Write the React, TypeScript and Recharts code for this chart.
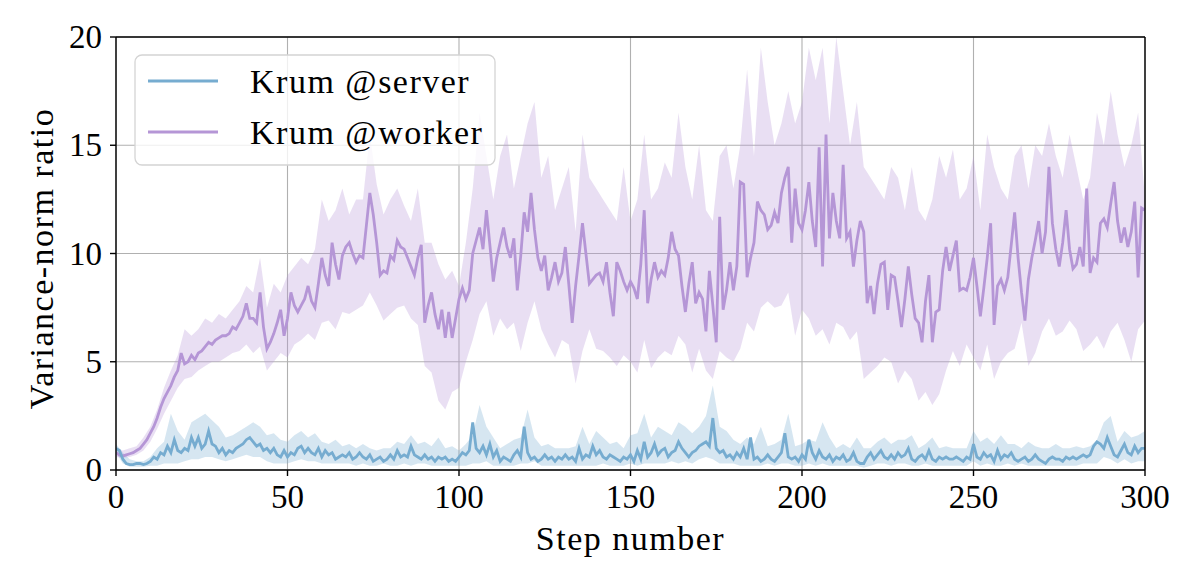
import React from "react";
import {
  ComposedChart,
  Line,
  Area,
  XAxis,
  YAxis,
  CartesianGrid,
  ReferenceLine,
} from "recharts";

// ---- data ----
const xTicks = [0, 50, 100, 150, 200, 250, 300];
const yTicks = [0, 5, 10, 15, 20];

// Krum @worker mean, one value per step 0..300
const workerMean = [
  0.8, 0.7, 0.65, 0.7, 0.75, 0.8, 0.9, 1.0, 1.2, 1.4,
  1.7, 2.0, 2.4, 2.9, 3.3, 3.6, 3.9, 4.3, 4.6, 5.4,
  4.9, 5.0, 5.3, 5.1, 5.4, 5.5, 5.7, 5.9, 5.8, 6.0,
  6.1, 6.2, 6.2, 6.3, 6.6, 6.5, 6.8, 7.1, 7.7, 7.0,
  7.0, 6.8, 8.2, 6.6, 5.6, 5.9, 6.3, 6.8, 7.4, 6.2,
  7.0, 8.2, 7.6, 7.3, 7.6, 7.9, 8.5, 7.8, 7.5, 8.6,
  9.8, 9.0, 8.5, 10.5, 9.5, 8.8, 9.9, 10.3, 10.5, 10.0,
  9.6, 9.9, 9.8, 11.3, 12.8, 11.8, 10.5, 9.0, 9.2, 9.1,
  9.9, 9.7, 10.6, 10.3, 10.2, 9.8, 9.4, 9.0, 9.8, 10.4,
  6.8, 7.6, 8.2, 7.2, 6.5, 7.4, 6.1, 7.3, 6.1, 7.0,
  7.9, 8.4, 7.9, 8.3, 10.0, 10.6, 11.2, 10.2, 12.0, 10.4,
  8.7, 9.8, 10.5, 11.2, 10.3, 9.8, 10.7, 8.3, 9.9, 11.9,
  11.0, 12.8, 11.1, 9.8, 9.2, 9.9, 8.3, 8.9, 9.6, 8.7,
  9.1, 10.3, 8.6, 6.8, 8.5, 9.9, 11.4, 10.0, 8.6, 8.8,
  9.0, 9.1, 8.7, 9.6, 8.2, 7.1, 9.6, 9.2, 8.7, 8.3,
  8.7, 8.4, 7.9, 9.5, 12.0, 7.7, 8.8, 9.6, 8.9, 9.2,
  9.0, 9.8, 11.0, 10.2, 9.9, 8.5, 7.3, 8.6, 9.6, 7.7,
  8.2, 7.9, 6.4, 9.2, 7.6, 5.9, 11.7, 7.4, 8.3, 9.6,
  8.3, 9.4, 13.3, 13.2, 8.9, 9.8, 10.5, 12.4, 12.0, 11.8,
  11.1, 11.3, 11.9, 11.4, 12.8, 13.5, 14.0, 10.5, 13.0, 11.4,
  11.1, 12.0, 13.3, 11.5, 10.3, 14.9, 9.4, 15.5, 10.7, 12.8,
  11.5, 10.7, 14.1, 10.7, 11.0, 9.4, 10.6, 11.5, 11.0, 7.7,
  8.5, 7.2, 8.6, 9.5, 9.6, 7.4, 9.0, 8.9, 7.8, 6.6,
  7.9, 9.4, 8.1, 7.0, 6.8, 5.9, 7.8, 9.0, 5.9, 7.3,
  7.4, 9.2, 10.3, 9.2, 9.9, 10.6, 8.3, 8.4, 8.3, 8.9,
  9.8, 8.5, 7.1, 8.4, 9.8, 11.4, 6.7, 8.5, 8.8, 8.3,
  8.9, 10.4, 11.9, 9.8, 8.2, 6.9, 8.8, 9.8, 10.6, 11.5,
  10.0, 11.0, 14.0, 11.4, 10.2, 9.4, 10.5, 12.0, 10.2, 9.3,
  9.5, 10.3, 9.4, 13.0, 9.1, 9.8, 9.6, 11.4, 11.6, 11.2,
  12.3, 13.3, 11.5, 10.5, 11.2, 10.3, 11.0, 12.4, 8.9, 12.1,
  12.0,
];

// Krum @worker band, one value per 2 steps 0,2,..,300
const workerLow = [
  0.6, 0.55, 0.6, 0.7, 0.9, 1.3,
  1.9, 2.6, 3.2, 3.8, 4.2, 4.3, 4.6, 4.8, 5.0, 5.0,
  5.2, 5.4, 5.5, 5.8, 5.4, 5.7, 4.6, 5.0, 5.4, 5.2,
  5.8, 6.0, 6.3, 6.0, 6.8, 6.9, 6.5, 7.3, 7.2, 7.4,
  7.6, 8.2, 7.6, 6.9, 7.2, 7.5, 7.6, 7.0, 6.7, 4.8,
  4.5, 3.2, 2.8, 3.6, 3.8, 5.0, 6.0, 7.2, 7.8, 6.2,
  7.0, 6.5, 6.8, 5.5, 6.8, 7.8, 6.5, 5.8, 5.2, 6.0,
  5.8, 4.0, 5.5, 6.5, 5.6, 5.5, 5.2, 4.8, 5.3, 5.0,
  4.5, 6.0, 4.7, 5.2, 5.5, 5.3, 6.2, 5.8, 4.5, 5.6,
  4.6, 4.2, 5.5, 5.2, 5.0, 5.6, 6.8, 6.4, 7.5, 7.8,
  7.5, 7.6, 8.2, 6.2, 7.4, 7.0, 6.2, 6.5, 5.8, 6.8,
  6.6, 6.0, 6.4, 4.2, 4.5, 4.8, 5.2, 5.0, 4.0, 4.6,
  4.2, 3.2, 3.6, 3.0, 3.5, 4.6, 5.5, 4.8, 5.8, 5.2,
  4.6, 5.8, 4.2, 5.0, 5.4, 5.6, 6.8, 4.8, 5.4, 6.4,
  7.0, 6.2, 6.4, 6.9, 6.5, 5.5, 5.8, 6.2, 5.6, 6.4,
  6.8, 6.0, 5.0, 6.5, 6.9,
];
const workerHigh = [
  1.0, 0.9, 1.0, 1.1, 1.5, 2.0,
  2.8, 3.8, 4.6, 5.3, 6.5, 6.2, 6.5, 7.0, 6.8, 7.2,
  7.0, 7.4, 7.8, 8.5, 8.2, 9.8, 7.5, 8.6, 8.2, 9.0,
  9.4, 9.8, 9.5, 10.2, 12.5, 11.5, 12.0, 13.0, 11.8, 12.5,
  12.5, 15.5, 13.2, 11.8, 12.5, 13.0, 12.2, 11.5, 13.0, 10.5,
  10.5, 9.5, 8.8, 9.2, 8.5, 10.5, 13.0, 16.5, 14.5, 12.5,
  14.5, 15.5, 13.0, 14.5, 16.0, 17.0, 13.5, 14.5, 12.0, 13.0,
  14.0, 11.0, 15.5, 13.5, 13.0, 12.5, 12.0, 11.5, 14.0, 11.5,
  12.5, 15.5, 12.5, 13.0, 14.2, 13.5, 16.5, 14.0, 12.5, 15.0,
  12.0, 11.5, 14.5, 15.0, 13.0, 15.0, 18.5, 14.5, 19.5, 17.0,
  15.0, 16.0, 17.5, 16.0, 17.0, 19.5, 18.0, 19.5, 16.0, 20.0,
  17.5, 15.0, 17.0, 14.0, 13.5, 13.0, 12.5, 14.0, 13.5, 12.0,
  14.0, 12.0, 11.5, 12.5, 14.5, 13.5, 14.8, 12.5, 13.0, 14.5,
  12.0, 15.5, 14.0, 13.0, 12.5, 14.5, 15.0, 13.0, 15.0, 14.5,
  16.0, 14.5, 13.5, 15.5, 14.0, 12.5, 13.5, 16.5, 15.0, 17.5,
  15.5, 14.0, 15.0, 16.5, 12.5,
];

// Krum @server mean, one value per step 0..300
const serverMean = [
  1.0, 0.9, 0.5, 0.3, 0.25, 0.25, 0.3, 0.3, 0.25, 0.3,
  0.4, 0.6, 0.5, 0.8, 0.7, 1.1, 0.8, 1.4, 0.9, 0.8,
  1.0, 0.9, 1.5, 1.1, 1.5, 1.0, 1.2, 1.8, 1.2, 1.1,
  0.8, 1.0, 0.7, 0.9, 0.8, 1.0, 1.1, 1.2, 1.4, 1.5,
  1.3, 1.1, 1.2, 0.9, 1.0, 0.8, 1.0, 0.7, 0.6, 0.9,
  0.6, 0.8, 0.7, 1.0, 1.1, 0.8, 1.0, 0.8, 0.7, 1.0,
  0.6, 0.9, 0.7, 0.8, 0.5, 0.6, 0.7, 0.6, 0.8, 0.5,
  0.6, 0.8, 0.6, 0.5, 0.7, 0.4, 0.5, 0.6, 0.4, 0.5,
  0.7, 0.5, 0.9, 0.6, 0.7, 0.6, 1.1, 0.7, 0.6, 0.5,
  0.7, 0.5, 0.6, 0.4, 0.6, 0.5, 0.6, 0.4, 0.5, 0.4,
  0.6, 0.8, 0.7, 0.9, 2.2, 1.0, 0.8, 1.1, 0.7, 1.2,
  0.6, 0.9, 0.4, 0.6, 0.5, 0.4, 0.7, 0.9, 0.6, 2.0,
  0.8, 0.5, 0.6, 0.4, 0.5, 0.7, 0.5, 0.6, 0.4, 0.6,
  0.5, 0.7, 0.5, 0.6, 0.4, 1.0, 0.5, 0.7, 0.6, 1.1,
  0.7, 0.9, 0.6, 0.5, 0.7, 0.6, 0.5, 0.4, 0.6, 0.5,
  0.7, 0.4, 0.9, 0.5, 1.3, 0.6, 0.8, 1.2, 0.7, 0.9,
  1.0, 0.6, 0.8, 0.9, 1.3, 1.0, 0.8, 0.6, 0.8, 0.9,
  1.1, 1.2, 1.3, 1.1, 2.4, 1.0, 0.8, 0.9, 0.6, 0.7,
  0.5, 0.8, 0.6, 1.0, 0.5, 1.5, 0.5, 0.6, 0.4, 0.5,
  0.7, 0.5, 0.4, 0.6, 0.8, 1.7, 0.6, 0.5, 0.6, 0.4,
  0.7, 0.5, 1.4, 0.8, 0.5, 0.9, 0.6, 0.5, 0.7, 0.4,
  0.6, 0.5, 0.7, 0.4, 0.5, 0.8, 0.4, 0.3, 0.3, 0.6,
  0.8, 0.5, 0.7, 0.9, 0.6, 0.5, 0.7, 0.5, 0.8, 0.6,
  0.7, 1.0, 0.5, 0.4, 0.6, 0.7, 0.5, 0.9, 0.5, 0.4,
  0.6, 0.5, 0.6, 0.5, 0.5, 0.6, 0.5, 0.4, 0.6, 0.5,
  1.2, 0.6, 0.5, 0.8, 0.6, 0.7, 0.4, 0.9, 0.5, 0.7,
  0.6, 0.8, 0.5, 0.4, 0.5, 0.6, 0.4, 0.5, 0.7, 0.5,
  0.4, 0.3, 0.5, 0.6, 0.5, 0.5, 0.4, 0.6, 0.5, 0.6,
  0.5, 0.6, 0.7, 0.6, 0.7, 1.1, 1.3, 1.2, 1.0, 1.5,
  1.1, 0.7, 0.6, 0.9, 1.2, 0.8, 0.7, 1.1, 0.8, 1.0,
  1.0,
];

// Krum @server band, one value per 2 steps 0,2,..,300
const serverLow = [
  0.8, 0.3, 0.15, 0.15, 0.15, 0.2,
  0.2, 0.3, 0.3, 0.3, 0.4, 0.5, 0.5, 0.6, 0.6, 0.5,
  0.4, 0.5, 0.6, 0.7, 0.6, 0.6, 0.4, 0.3, 0.3, 0.3,
  0.4, 0.5, 0.4, 0.4, 0.3, 0.3, 0.3, 0.3, 0.3, 0.2,
  0.3, 0.2, 0.2, 0.3, 0.2, 0.2, 0.3, 0.2, 0.3, 0.3,
  0.2, 0.2, 0.2, 0.2, 0.2, 0.2, 0.3, 0.3, 0.4, 0.2,
  0.2, 0.2, 0.2, 0.3, 0.3, 0.4, 0.2, 0.2, 0.2, 0.2,
  0.2, 0.2, 0.2, 0.2, 0.2, 0.3, 0.2, 0.2, 0.2, 0.3,
  0.2, 0.3, 0.3, 0.3, 0.3, 0.4, 0.3, 0.4, 0.3, 0.5,
  0.6, 0.5, 0.3, 0.3, 0.3, 0.2, 0.2, 0.2, 0.2, 0.3,
  0.2, 0.3, 0.3, 0.2, 0.2, 0.3, 0.2, 0.3, 0.2, 0.2,
  0.2, 0.2, 0.2, 0.1, 0.2, 0.3, 0.3, 0.2, 0.3, 0.3,
  0.2, 0.2, 0.3, 0.2, 0.2, 0.2, 0.2, 0.2, 0.2, 0.4,
  0.2, 0.3, 0.2, 0.2, 0.3, 0.2, 0.3, 0.2, 0.2, 0.2,
  0.2, 0.2, 0.2, 0.2, 0.2, 0.3, 0.3, 0.3, 0.6, 0.5,
  0.3, 0.5, 0.3, 0.4, 0.4,
];
const serverHigh = [
  1.2, 0.8, 0.5, 0.4, 0.4, 0.6,
  1.0, 1.3, 2.6, 1.8, 1.4, 2.2, 2.4, 2.6, 2.3, 2.0,
  1.5, 1.6, 1.8, 2.0, 2.2, 2.0, 1.6, 1.7, 1.4, 1.3,
  1.6, 1.8, 1.5, 1.7, 1.3, 1.2, 1.4, 1.1, 1.2, 1.0,
  1.2, 1.0, 0.9, 1.0, 1.0, 1.3, 1.2, 1.6, 1.2, 1.3,
  1.1, 1.5, 1.0, 1.1, 0.9, 1.2, 1.6, 3.0, 2.0, 1.5,
  1.0, 1.2, 1.4, 1.5, 2.8, 1.5, 1.1, 1.2, 1.0, 1.0,
  1.0, 1.1, 2.0, 1.2, 1.8, 1.5, 1.2, 1.3, 1.0, 1.6,
  1.7, 2.6, 1.5, 2.0, 1.8, 1.6, 2.2, 2.0, 1.7, 2.0,
  2.5, 3.9, 2.0, 1.8, 1.4, 1.2, 1.5, 1.2, 2.0, 1.1,
  1.2, 1.4, 2.6, 1.1, 1.2, 1.4, 1.3, 2.2, 1.5, 1.0,
  1.2, 1.0, 1.5, 1.0, 1.0, 1.3, 1.5, 1.2, 1.4, 1.4,
  1.6, 1.0, 1.2, 1.5, 1.0, 1.1, 1.0, 1.0, 1.0, 1.8,
  1.3, 1.5, 1.2, 1.6, 1.2, 1.2, 1.0, 1.3, 1.1, 1.0,
  1.0, 1.2, 1.0, 1.0, 1.1, 1.0, 1.1, 1.4, 2.2, 2.5,
  1.3, 1.8, 1.5, 1.6, 1.8,
];

// ---- assembled series ----
const workerLine = workerMean.map((v, i) => ({ step: i, v }));
const serverLine = serverMean.map((v, i) => ({ step: i, v }));
const workerBand = workerLow.map((lo, i) => ({ step: i * 2, lo, hi: workerHigh[i] }));
const serverBand = serverLow.map((lo, i) => ({ step: i * 2, lo, hi: serverHigh[i] }));

const legendItems = [
  { name: "Krum @server", color: "#76acd0" },
  { name: "Krum @worker", color: "#b596d6" },
];

const FONT = "'Liberation Serif', 'DejaVu Serif', serif";
const BLUE = "#76acd0";
const PURPLE = "#b596d6";

const XTick = (props: any) => {
  const { x, y, payload } = props;
  return (
    <text x={x} y={y + 30} textAnchor="middle" fontFamily={FONT} fontSize={33} fill="#000">
      {payload.value}
    </text>
  );
};

const YTick = (props: any) => {
  const { x, y, payload } = props;
  return (
    <text x={x - 6} y={y + 11} textAnchor="end" fontFamily={FONT} fontSize={33} fill="#000">
      {payload.value}
    </text>
  );
};

const LegendBox = () => (
  <svg width={362} height={112} style={{ display: "block" }}>
    <rect x={1} y={1} width={360} height={110} rx={7} ry={7} fill="rgba(255,255,255,0.8)" stroke="#d4d4d4" strokeWidth={1.3} />
    {legendItems.map((it, i) => (
      <g key={it.name}>
        <line x1={14} x2={84} y1={27 + i * 51} y2={27 + i * 51} stroke={it.color} strokeWidth={2.8} />
        <text x={116} y={39 + i * 51} fontFamily={FONT} fontSize={34} letterSpacing={1.5} fill="#000">
          {it.name}
        </text>
      </g>
    ))}
  </svg>
);

const YLabel = (props: any) => {
  const vb = props.viewBox || { x: 0, y: 37, width: 116, height: 433 };
  const cx = vb.x + 53;
  const cy = vb.y + vb.height / 2 + 5;
  return (
    <text
      transform={`translate(${cx}, ${cy}) rotate(-90)`}
      textAnchor="middle"
      fontFamily={FONT}
      fontSize={34}
      letterSpacing={1.5}
      fill="#000"
    >
      Variance-norm ratio
    </text>
  );
};

const XLabel = (props: any) => {
  const vb = props.viewBox || { x: 116, y: 470, width: 1029, height: 113 };
  const cx = vb.x + vb.width / 2;
  return (
    <text x={cx} y={vb.y + 80} textAnchor="middle" fontFamily={FONT} fontSize={34} letterSpacing={1.5} fill="#000">
      Step number
    </text>
  );
};

export default function App() {
  return (
    <div style={{ position: "absolute", left: 0, top: 0, width: 1196, height: 583, background: "#fff" }}>
      <ComposedChart width={1196} height={583} margin={{ top: 37, right: 51, bottom: 0, left: 0 }}>
        <CartesianGrid stroke="#b0b0b0" strokeWidth={1.1} />
        <XAxis
          type="number"
          dataKey="step"
          domain={[0, 300]}
          ticks={xTicks}
          allowDataOverflow
          height={113}
          axisLine={{ stroke: "#000", strokeWidth: 1.4 }}
          tickLine={{ stroke: "#000", strokeWidth: 1.4 }}
          tickSize={6}
          tick={<XTick />}
          label={<XLabel />}
        />
        <YAxis
          type="number"
          domain={[0, 20]}
          ticks={yTicks}
          allowDataOverflow
          width={116}
          axisLine={{ stroke: "#000", strokeWidth: 1.4 }}
          tickLine={{ stroke: "#000", strokeWidth: 1.4 }}
          tickSize={6}
          tick={<YTick />}
          label={<YLabel />}
        />
        <Area
          data={workerBand}
          dataKey={(d: any) => [d.lo, d.hi]}
          type="linear"
          stroke="none"
          fill={PURPLE}
          fillOpacity={0.3}
          isAnimationActive={false}
          dot={false}
          activeDot={false}
        />
        <Area
          data={serverBand}
          dataKey={(d: any) => [d.lo, d.hi]}
          type="linear"
          stroke="none"
          fill={BLUE}
          fillOpacity={0.3}
          isAnimationActive={false}
          dot={false}
          activeDot={false}
        />
        <Line
          data={workerLine}
          dataKey="v"
          name="Krum @worker"
          type="linear"
          stroke={PURPLE}
          strokeWidth={2.8}
          dot={false}
          activeDot={false}
          isAnimationActive={false}
        />
        <Line
          data={serverLine}
          dataKey="v"
          name="Krum @server"
          type="linear"
          stroke={BLUE}
          strokeWidth={2.8}
          dot={false}
          activeDot={false}
          isAnimationActive={false}
        />
        <ReferenceLine y={20} stroke="#000" strokeWidth={1.4} ifOverflow="visible" />
        <ReferenceLine x={300} stroke="#000" strokeWidth={1.4} ifOverflow="visible" />
      </ComposedChart>
      <div style={{ position: "absolute", left: 134, top: 54 }}>
        <LegendBox />
      </div>
    </div>
  );
}
